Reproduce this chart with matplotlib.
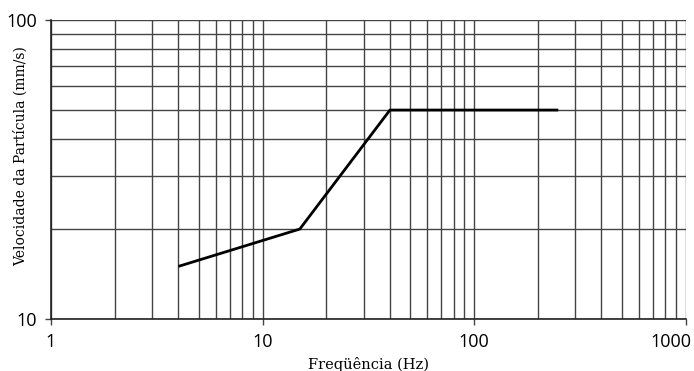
import matplotlib
matplotlib.use("Agg")
import matplotlib.pyplot as plt
import matplotlib.transforms as mtransforms
from matplotlib.ticker import LogLocator, NullFormatter, FixedLocator, FixedFormatter

# curve limit (frequency Hz, particle velocity mm/s)
freq = [4, 15, 40, 250]
velocity = [15, 20, 50, 50]

x_ticks = [1, 10, 100, 1000]
x_labels = ["1", "10", "100", "1000"]
y_ticks = [10, 100]
y_labels = ["10", "100"]

fig = plt.figure(figsize=(6.94, 3.71), dpi=100)
ax = fig.add_axes([0.0735, 0.140, 0.9145, 0.806])

ax.set_xscale("log")
ax.set_yscale("log")
ax.set_xlim(1, 1000)
ax.set_ylim(10, 100)

ax.plot(freq, velocity, color="black", linewidth=2, solid_capstyle="butt", zorder=3)

ax.xaxis.set_major_locator(FixedLocator(x_ticks))
ax.xaxis.set_major_formatter(FixedFormatter(x_labels))
ax.yaxis.set_major_locator(FixedLocator(y_ticks))
ax.yaxis.set_major_formatter(FixedFormatter(y_labels))
ax.xaxis.set_minor_locator(LogLocator(base=10, subs=range(2, 10)))
ax.yaxis.set_minor_locator(LogLocator(base=10, subs=range(2, 10)))
ax.xaxis.set_minor_formatter(NullFormatter())
ax.yaxis.set_minor_formatter(NullFormatter())

ax.grid(True, which="both", color="#444444", linewidth=1.0)
ax.tick_params(which="minor", length=0)
ax.tick_params(which="major", length=4, width=1, color="#444444",
               labelsize=13, pad=6)
for lab in ax.get_xticklabels() + ax.get_yticklabels():
    lab.set_family("Open Sans")

# keep the last x label inside the figure
fig.canvas.draw()
last = ax.get_xticklabels()[-1]
last.set_ha("right")
last.set_transform(last.get_transform() +
                   mtransforms.ScaledTranslation(6 / 100, 0, fig.dpi_scale_trans))

for side in ["top", "right"]:
    ax.spines[side].set_visible(False)
for side in ["left", "bottom"]:
    ax.spines[side].set_color("#222222")
    ax.spines[side].set_linewidth(1.2)

ax.set_xlabel("Freqüência (Hz)", family="DejaVu Serif", fontsize=10.5, labelpad=4)
ax.set_ylabel("Velocidade da Partícula (mm/s)", family="DejaVu Serif", fontsize=10)
ax.yaxis.set_label_coords(-0.036, 0.545)

fig.savefig("out.png", dpi=100)
